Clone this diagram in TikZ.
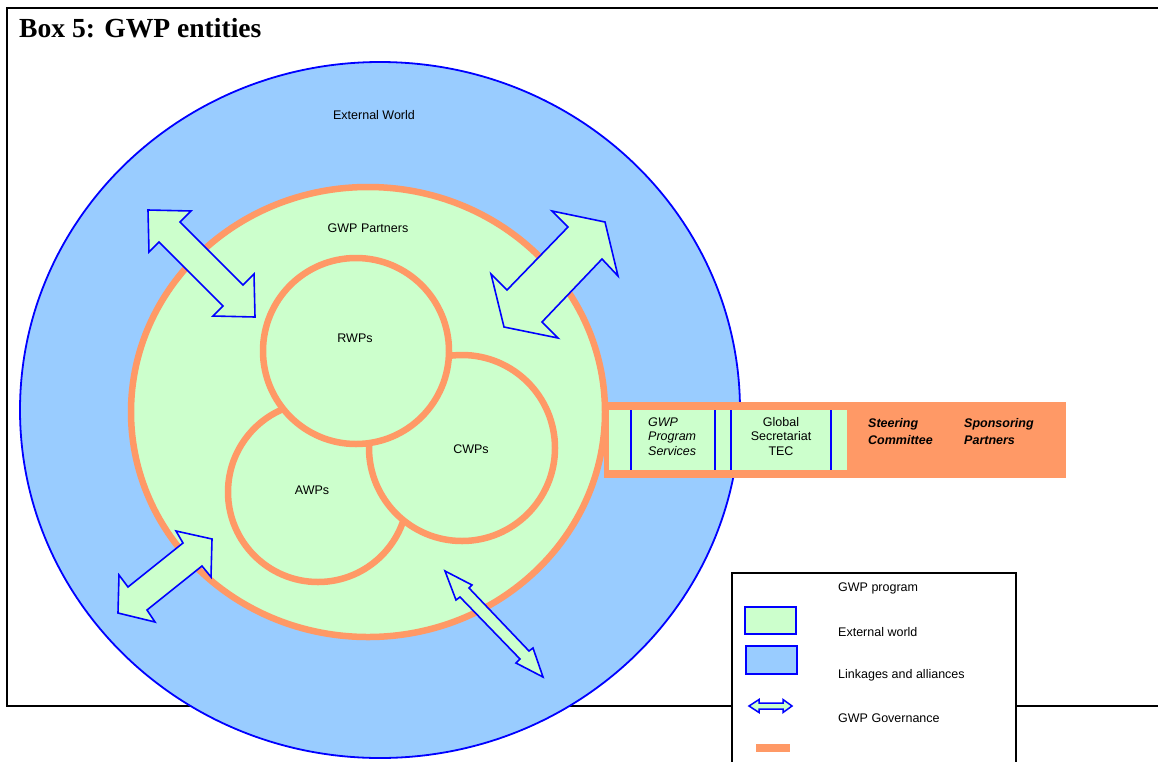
\documentclass[tikz,border=0pt]{standalone}
\usepackage{fontspec}
\setmainfont{Liberation Sans}
\newfontfamily\titlefont{Liberation Serif}
\definecolor{extblue}{HTML}{99CCFF}
\definecolor{gwpgreen}{HTML}{CCFFCC}
\definecolor{gwporange}{HTML}{FF9966}
\definecolor{lineblue}{HTML}{0000FF}
\tikzset{
  lbl/.style={inner sep=0pt, font=\fontsize{12.5}{14.5}\selectfont},
  orangering/.style={draw=gwporange, line width=6.5pt, fill=gwpgreen},
  dblarrow/.style={draw=lineblue, line width=1.6pt, fill=gwpgreen, line join=miter},
  sepline/.style={draw=lineblue, line width=1.6pt},
}
\begin{document}
\begin{tikzpicture}[x=1pt,y=-1pt]
\useasboundingbox (0,0) rectangle (1158,761);
\clip (0,0) rectangle (1158,761);
% frame
\draw[line width=2pt] (7,8) rectangle (1175,706);
\node[anchor=base west, inner sep=0pt, font=\titlefont\bfseries\fontsize{27.6}{30}\selectfont] (title) at (19,37.5) {Box 5: GWP entities};
% external world
\draw[draw=lineblue, line width=1.8pt, fill=extblue] (380,410) ellipse [x radius=360pt, y radius=348pt];
% GWP partners
\draw[orangering] (368,412) ellipse [x radius=237pt, y radius=225pt];
% small circles
\draw[orangering] (318,492) circle [radius=90pt];
\draw[orangering] (462,448) circle [radius=93pt];
\draw[orangering] (356,351) circle [radius=93pt];
% band
\fill[gwporange] (604,402) rectangle (1066,478);
\fill[gwpgreen] (609,410) rectangle (847,470);
\draw[sepline] (631,410) -- (631,470);
\draw[sepline] (715,410) -- (715,470);
\draw[sepline] (731,410) -- (731,470);
\draw[sepline] (831,410) -- (831,470);
% labels
\node[lbl] (ext) at (374,115) {External World};
\node[lbl] (partners) at (368,228) {GWP Partners};
\node[lbl] (rwp) at (355,338) {RWPs};
\node[lbl] (cwp) at (471,449) {CWPs};
\node[lbl] (awp) at (312,490) {AWPs};
\node[lbl, align=left, anchor=west, font=\fontsize{12.5}{14.5}\selectfont\itshape] (gps) at (648,436.5) {GWP\\Program\\Services};
\node[lbl, align=center] (gs) at (781,436.5) {Global\\Secretariat\\TEC};
\node[lbl, align=left, anchor=west, font=\fontsize{12.5}{16.5}\selectfont\bfseries\itshape] (sc) at (868,431.5) {Steering\\Committee};
\node[lbl, align=left, anchor=west, font=\fontsize{12.5}{16.5}\selectfont\bfseries\itshape] (sp) at (964,431.5) {Sponsoring\\Partners};
% arrows
\draw[dblarrow] (148,210) -- (191,211) -- (180,222) -- (243,285) -- (254,274) -- (255,317) -- (213,316) -- (223,306) -- (159,242) -- (149,252) -- cycle;
\draw[dblarrow] (552,211) -- (605,222) -- (618,276) -- (602,259) -- (542,322) -- (558,338) -- (504,327) -- (491,274) -- (507,290) -- (568,227) -- cycle;
\draw[dblarrow] (176,531) -- (212,539) -- (211,577) -- (202,566) -- (147,610) -- (155,622) -- (118,613) -- (119,575) -- (128,587) -- (183,543) -- cycle;
\draw[dblarrow] (445,571) -- (472,585) -- (469,588) -- (529,651) -- (533,648) -- (543,677) -- (516,663) -- (520,659) -- (460,597) -- (456,600) -- cycle;
% legend
\draw[line width=1.5pt, fill=white] (732,573) rectangle (1016,775);
\draw[draw=lineblue, line width=1.5pt, fill=gwpgreen] (745,607) rectangle (796,634);
\draw[draw=lineblue, line width=1.5pt, fill=extblue] (746,646) rectangle (797,674);
\draw[dblarrow, line width=1.5pt] (749,706) -- (759,699.5) -- (759,703) -- (783,703) -- (783,699.5) -- (792,706) -- (783,712.5) -- (783,709) -- (759,709) -- (759,712.5) -- cycle;
\fill[gwporange] (756,744) rectangle (790,752);
\node[lbl, anchor=west] (l1) at (838,588) {GWP program};
\node[lbl, anchor=west] (l2) at (838,632) {External world};
\node[lbl, anchor=west] (l3) at (838,675) {Linkages and alliances};
\node[lbl, anchor=west] (l4) at (838,718) {GWP Governance};
\end{tikzpicture}
\end{document}
